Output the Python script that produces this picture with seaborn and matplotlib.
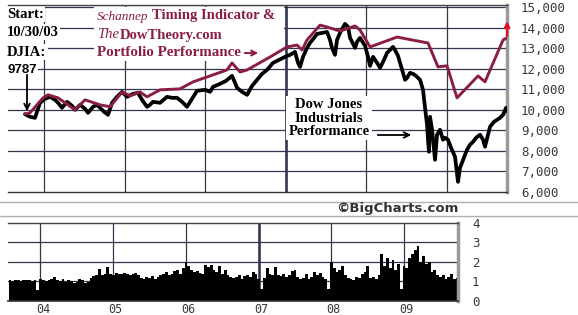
import numpy as np
import pandas as pd
import matplotlib
matplotlib.use("Agg")
import matplotlib.pyplot as plt
import seaborn as sns
from matplotlib.lines import Line2D
from matplotlib.patches import Rectangle

# ---------------- data ----------------
djia_dates = [2003.764, 2003.826, 2003.888, 2003.950, 2004.012, 2004.074, 2004.136, 2004.174,
              2004.223, 2004.285, 2004.347, 2004.385, 2004.447, 2004.509, 2004.546, 2004.608,
              2004.658, 2004.695, 2004.744, 2004.794, 2004.844, 2004.906, 2004.968, 2005.030,
              2005.104, 2005.166, 2005.216, 2005.278, 2005.315, 2005.352, 2005.439, 2005.526,
              2005.588, 2005.650, 2005.712, 2005.774, 2005.836, 2005.898, 2005.998, 2006.060,
              2006.097, 2006.184, 2006.258, 2006.333, 2006.395, 2006.457, 2006.519, 2006.581,
              2006.643, 2006.705, 2006.767, 2006.841, 2006.916, 2006.990, 2007.052, 2007.114,
              2007.151, 2007.176, 2007.213, 2007.263, 2007.300, 2007.350, 2007.387, 2007.449,
              2007.511, 2007.548, 2007.573, 2007.610, 2007.635, 2007.672, 2007.734, 2007.772,
              2007.797, 2007.859, 2007.883, 2007.921, 2007.983, 2008.020, 2008.045, 2008.082,
              2008.132, 2008.169, 2008.218, 2008.256, 2008.293, 2008.330, 2008.367, 2008.392,
              2008.442, 2008.479, 2008.504, 2008.541, 2008.578, 2008.615, 2008.665, 2008.702,
              2008.727, 2008.752, 2008.764, 2008.776, 2008.789, 2008.814, 2008.826, 2008.851,
              2008.876, 2008.913, 2008.950, 2008.975, 2009.012, 2009.050, 2009.099, 2009.136,
              2009.161, 2009.186, 2009.223, 2009.248, 2009.285, 2009.323, 2009.360, 2009.409,
              2009.447, 2009.471, 2009.509, 2009.533, 2009.583, 2009.620, 2009.658, 2009.695,
              2009.732, 2009.757]
djia_values = [9787, 9660, 9611, 10340, 10535, 10632, 10486, 10340,
               10097, 10389, 10194, 10000, 10243, 10049, 9854, 10146,
               10243, 10097, 9903, 9757, 10340, 10632, 10875, 10632,
               10778, 10826, 10486, 10146, 10243, 10389, 10340, 10632,
               10583, 10583, 10389, 10146, 10535, 10923, 10972, 10875,
               11118, 11264, 11409, 11652, 11069, 10875, 10729, 11166,
               11458, 11750, 11944, 12284, 12430, 12576, 12673, 12819,
               12284, 12090, 12576, 13013, 13256, 13499, 13693, 13742,
               13790, 13402, 13013, 12673, 13402, 13742, 14180, 14034,
               13499, 13013, 13305, 13499, 13110, 12576, 12138, 12576,
               12284, 12041, 12430, 12770, 12916, 13062, 12819, 12624,
               11944, 11458, 11555, 11798, 11750, 11652, 11458, 10972,
               10097, 9271, 8542, 7959, 9660, 9028, 8542, 7570,
               8785, 9028, 8542, 8639, 8542, 8153, 7716, 6495,
               7181, 7424, 7813, 8056, 8299, 8445, 8639, 8785,
               8542, 8202, 8785, 9174, 9417, 9514, 9611, 9757,
               10097, 9903]

port_dates = [2003.764, 2003.826, 2003.988, 2004.050, 2004.174, 2004.385, 2004.509, 2004.695,
              2004.819, 2004.968, 2005.067, 2005.191, 2005.278, 2005.439, 2005.687, 2005.849,
              2006.097, 2006.270, 2006.333, 2006.432, 2006.519, 2006.804, 2007.015, 2007.139,
              2007.201, 2007.263, 2007.424, 2007.511, 2007.672, 2007.859, 2007.921, 2008.045,
              2008.380, 2008.764, 2008.888, 2009.000, 2009.124, 2009.385, 2009.471, 2009.695,
              2009.744]
port_values = [9787, 9854, 10580, 10730, 10580, 10000, 10485, 10240,
               10150, 10870, 10680, 10870, 10630, 10970, 11020, 11360,
               11700, 11940, 12280, 11840, 11940, 12570, 13060, 13150,
               12910, 13400, 14120, 14030, 13830, 14080, 13880, 13060,
               13540, 13250, 12090, 12140, 10580, 11650, 11360, 13400,
               13500]

vol_start = 2003.56
vol_values = [1.05, 1.0, 1.08, 1.05, 1.02, 1.07, 1.05, 1.06,
              1.0, 1.05, 0.55, 1.1, 1.05, 1.0, 1.08, 1.12,
              1.2, 1.05, 1.0, 1.1, 0.95, 1.05, 1.0, 0.9,
              0.95, 1.1, 1.05, 0.9, 0.95, 1.15, 1.25, 1.3,
              1.65, 1.3, 1.4, 1.75, 1.35, 1.3, 1.45, 1.4,
              1.35, 1.45, 1.4, 1.3, 1.35, 1.45, 1.3, 1.15,
              1.1, 1.2, 1.15, 1.25, 1.1, 1.2, 1.3, 1.35,
              1.5, 1.3, 1.4, 1.55, 1.6, 1.35, 1.7, 2.0,
              1.8, 1.6, 1.5, 1.55, 1.45, 1.35, 1.85, 1.75,
              1.85, 1.6, 1.5, 1.8, 1.4, 1.6, 1.3, 1.2,
              1.15, 1.2, 1.3, 1.1, 1.25, 1.3, 1.2, 1.5,
              1.4, 1.1, 0.6, 1.15, 1.7, 1.4, 1.3, 1.75,
              1.3, 1.25, 1.4, 1.2, 1.3, 1.55, 1.6, 1.2,
              1.1, 1.15, 1.4, 1.1, 1.2, 1.5, 1.3, 1.45,
              1.2, 1.1, 0.6, 2.0, 1.7, 1.5, 1.6, 1.8,
              1.3, 1.15, 1.1, 1.05, 1.2, 1.15, 1.4, 1.5,
              1.8, 1.15, 1.2, 1.1, 1.3, 2.4, 1.8, 2.2,
              1.7, 2.1, 1.6, 1.9, 0.6, 1.8, 1.7, 2.2,
              2.4, 2.6, 2.8, 2.0, 2.3, 1.9, 2.0, 1.5,
              1.6, 1.3, 1.2, 1.3, 1.1, 1.2, 1.35, 1.1, 1.15]

price_ticks = [6000, 7000, 8000, 9000, 10000, 11000, 12000, 13000, 14000, 15000]
price_labels = ["6,000", "7,000", "8,000", "9,000", "10,000", "11,000", "12,000",
                "13,000", "14,000", "15,000"]
vol_ticks = [0, 1, 2, 3, 4]
vol_labels = ["0", "1", "2", "3", "4"]
year_ticks = [2004, 2005, 2006, 2007, 2008, 2009]
year_labels = ["04", "05", "06", "07", "08", "09"]

# ---------------- style ----------------
sns.set_theme(style="white")
plt.rcParams["font.family"] = ["DejaVu Sans"]

W, H = 578, 315
fig = plt.figure(figsize=(W / 100, H / 100), dpi=100)
fig.patch.set_facecolor("white")

def fx(x):
    return x / W

def fy(y):
    return 1 - y / H

XL = (2003.553, 2009.744)
GRID = "#34344e"
MAROON = "#8a1d46"
TICKC = "#3a3a3a"
MONO = "DejaVu Sans Mono"
SERIF = "Liberation Serif"

ax = fig.add_axes([fx(8), fy(192), fx(507 - 8), (192 - 5) / H])
axv = fig.add_axes([fx(8), fy(300.7), fx(458 - 8), (300.7 - 223) / H])

# ---------------- main panel ----------------
for t in price_ticks[1:]:
    ax.axhline(t, color=GRID, lw=0.9, zorder=0.5)
for yr in year_ticks:
    ax.axvline(yr, color=GRID, lw=1.9 if yr == 2007 else 0.9, zorder=0.5)

sns.lineplot(x=djia_dates, y=djia_values, ax=ax, color="black", lw=2.7,
             estimator=None, sort=False, zorder=3)
sns.lineplot(x=port_dates, y=port_values, ax=ax, color=MAROON, lw=2.1,
             estimator=None, sort=False, zorder=4)

ax.set_xlim(*XL)
ax.set_ylim(6000, 15100)
ax.yaxis.tick_right()
ax.set_yticks(price_ticks, price_labels)
ax.set_xticks([])
ax.tick_params(axis="y", length=0, pad=10, labelsize=9, labelcolor=TICKC)
for lb in ax.get_yticklabels():
    lb.set_fontfamily(MONO)
ax.set_xlabel("")
ax.set_ylabel("")
ax.spines["left"].set_visible(False)
ax.spines["top"].set_color("#444444")
ax.spines["top"].set_linewidth(1.0)
ax.spines["bottom"].set_color("#333333")
ax.spines["bottom"].set_linewidth(1.0)
ax.spines["right"].set_color("#9a9a9a")
ax.spines["right"].set_linewidth(2.5)

# end arrow (red)
ax.annotate("", xy=(2009.745, 14450), xytext=(2009.745, 13450),
            arrowprops=dict(arrowstyle="-|>", color="#e0102a", lw=1.6, mutation_scale=8),
            annotation_clip=False, zorder=6)

# annotations (figure-pixel positions)
tf = fig.transFigure
wbox = dict(facecolor="white", edgecolor="none", pad=1.0)
for txt, yy, fam in [("Start:", 14, SERIF), ("10/30/03", 32, SERIF),
                     ("DJIA:", 52, SERIF), ("9787", 70, "Liberation Sans")]:
    ax.text(fx(7), fy(yy), txt, transform=tf, ha="left", va="center",
            family=fam, fontweight="bold", fontsize=10.5 if fam == SERIF else 9.5,
            color="black", bbox=wbox, zorder=1.5)

ax.add_patch(Rectangle((fx(94), fy(61)), fx(284 - 94), (61 - 7) / H, transform=tf,
                       facecolor="white", edgecolor="none", zorder=1.2))
ax.text(fx(97), fy(17), "Schannep", transform=tf, ha="left", va="center",
        family=SERIF, style="italic", fontsize=9.5, color=MAROON, zorder=1.6)
ax.text(fx(152), fy(16), "Timing Indicator &", transform=tf, ha="left", va="center",
        family=SERIF, fontweight="bold", fontsize=10.5, color=MAROON, zorder=1.6)
ax.text(fx(97), fy(35), "The", transform=tf, ha="left", va="center",
        family=SERIF, style="italic", fontsize=10.5, color=MAROON, zorder=1.6)
ax.text(fx(120), fy(35), "DowTheory.com", transform=tf, ha="left", va="center",
        family=SERIF, fontweight="bold", fontsize=10.5, color=MAROON, zorder=1.6)
ax.text(fx(97), fy(53), "Portfolio Performance", transform=tf, ha="left", va="center",
        family=SERIF, fontweight="bold", fontsize=10.8, color=MAROON, zorder=1.6)
ax.annotate("", xy=(fx(261), fy(53)), xytext=(fx(242), fy(53)), xycoords=tf, textcoords=tf,
            arrowprops=dict(arrowstyle="->", color=MAROON, lw=1.4, mutation_scale=9),
            zorder=1.7)

ax.text(fx(329), fy(118), "Dow Jones\nIndustrials\nPerformance", transform=tf,
        ha="center", va="center", multialignment="center", linespacing=1.05,
        family=SERIF, fontweight="bold", fontsize=10.5, color="black",
        bbox=dict(facecolor="white", edgecolor="none", pad=1.5), zorder=1.5)
ax.annotate("", xy=(fx(414), fy(135)), xytext=(fx(375), fy(135)), xycoords=tf, textcoords=tf,
            arrowprops=dict(arrowstyle="->", color="black", lw=1.3, mutation_scale=10),
            zorder=5)
ax.annotate("", xy=(fx(27), fy(114)), xytext=(fx(27), fy(72)), xycoords=tf, textcoords=tf,
            arrowprops=dict(arrowstyle="->", color="black", lw=1.3, mutation_scale=10),
            zorder=5)

# ---------------- separators & credit ----------------
for yy in (201.7, 215.7):
    fig.add_artist(Line2D([0, 1], [fy(yy), fy(yy)], transform=tf, color="#b0b0b0", lw=1.0))
fig.text(fx(458), fy(208.5), "\u00a9BigCharts.com", ha="right", va="center",
         fontweight="bold", fontsize=9.5, color="#333333")

# ---------------- volume panel ----------------
n = len(vol_values)
edges = np.linspace(vol_start, vol_start + n / 26.0, n + 1)
vol_df = pd.DataFrame({"date": (edges[:-1] + edges[1:]) / 2, "volume": vol_values})
for t in vol_ticks[1:4]:
    axv.axhline(t, color=GRID, lw=0.9, zorder=0.5)
for yr in year_ticks:
    axv.axvline(yr, color=GRID, lw=1.9 if yr == 2007 else 0.9, zorder=0.5)
sns.histplot(data=vol_df, x="date", weights="volume", bins=list(edges), ax=axv,
             color="black", alpha=1.0, linewidth=0, zorder=2)
axv.set_xlim(*XL)
axv.set_ylim(0, 4)
axv.yaxis.tick_right()
axv.set_yticks(vol_ticks, vol_labels)
axv.set_xticks([y + 0.035 for y in year_ticks], year_labels)
axv.tick_params(axis="y", length=0, pad=10, labelsize=9, labelcolor=TICKC)
axv.tick_params(axis="x", length=0, pad=1.5, labelsize=8.5, labelcolor=TICKC)
for lb in axv.get_yticklabels() + axv.get_xticklabels():
    lb.set_fontfamily(MONO)
axv.set_xlabel("")
axv.set_ylabel("")
axv.spines["left"].set_visible(False)
axv.spines["top"].set_color("#444444")
axv.spines["top"].set_linewidth(1.0)
axv.spines["bottom"].set_color("#333333")
axv.spines["right"].set_color("#9a9a9a")
axv.spines["right"].set_linewidth(2.5)

fig.savefig("out.png", dpi=100, facecolor="white")
